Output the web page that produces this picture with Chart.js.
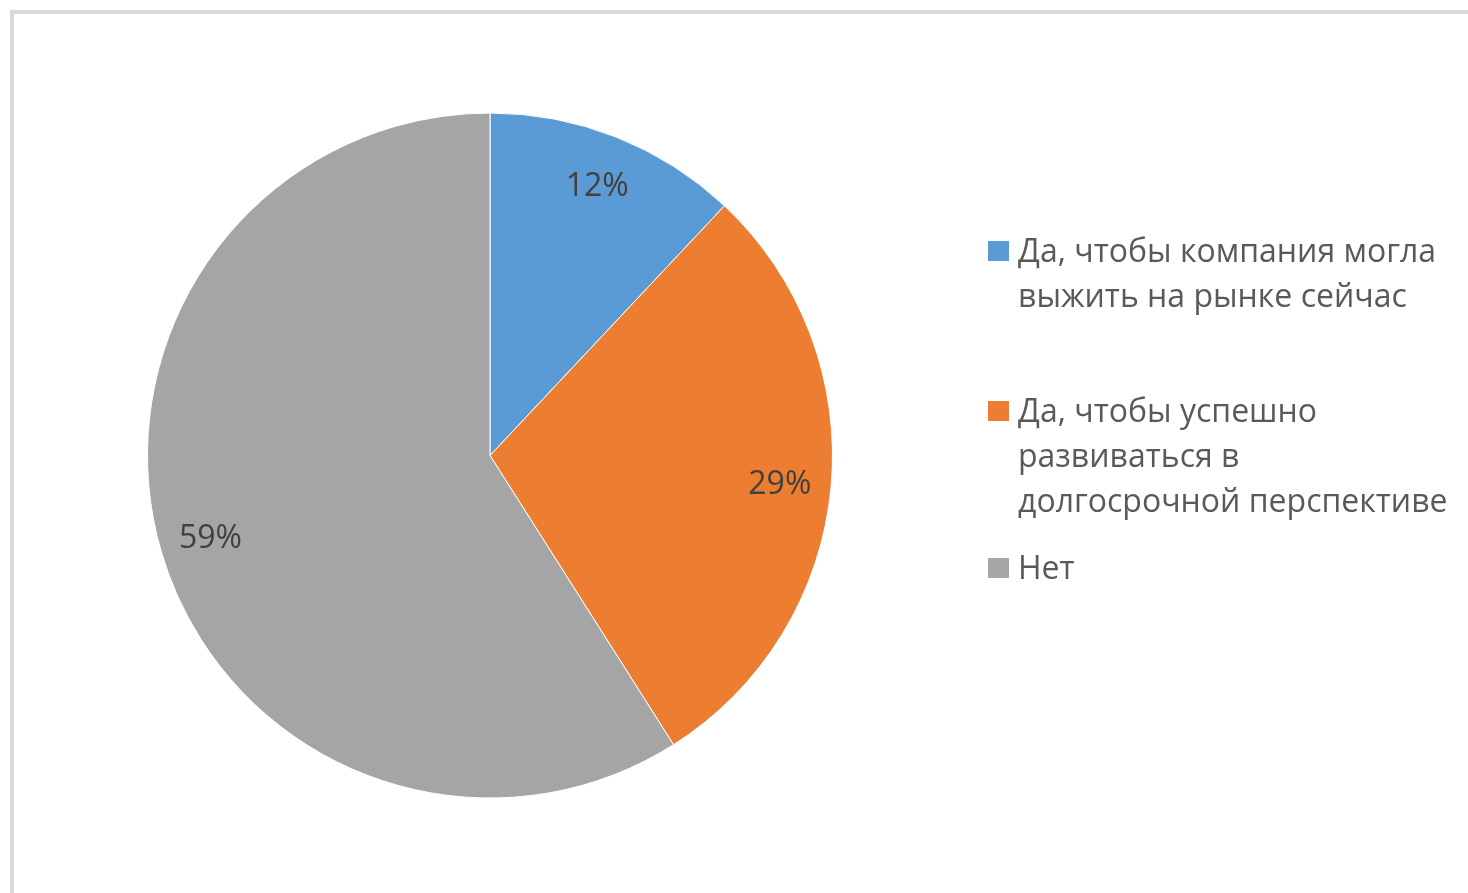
<!DOCTYPE html>
<html>
<head>
<meta charset="utf-8">
<script src="https://cdn.jsdelivr.net/npm/chart.js@4"></script>
<style>
  html, body { margin:0; padding:0; background:#fff; width:1468px; height:893px; overflow:hidden; }
  #frame { position:absolute; left:10px; top:10px; width:1500px; height:950px; border-top:4px solid #d9d9d9; border-left:4px solid #d9d9d9; box-sizing:border-box; }
  #c { position:absolute; left:0; top:0; }
  .leg { position:absolute; left:988px; font-family:"Open Sans", sans-serif; font-size:32px; line-height:45px; color:#595959; white-space:nowrap; }
  .leg .box { position:absolute; left:0; top:14px; width:21px; height:20px; }
  .leg .txt { position:absolute; left:30px; top:0; }
</style>
</head>
<body>
<div id="frame"></div>
<canvas id="c" width="1468" height="893"></canvas>
<div id="legend"></div>
<script>
const categories = [
  "Да, чтобы компания могла выжить на рынке сейчас",
  "Да, чтобы успешно развиваться в долгосрочной перспективе",
  "Нет"
];
const legendLines = [
  ["Да, чтобы компания могла", "выжить на рынке сейчас"],
  ["Да, чтобы успешно", "развиваться в", "долгосрочной перспективе"],
  ["Нет"]
];
const values = [12, 29, 59];
const valueLabels = ["12%", "29%", "59%"];
const colors = ["#5B9BD5", "#ED7D31", "#A5A5A5"];
const legendTops = [227, 387, 544];

const labelPlugin = {
  id: 'sliceLabels',
  afterDatasetsDraw(chart) {
    const ctx = chart.ctx;
    const meta = chart.getDatasetMeta(0);
    ctx.save();
    ctx.font = '32px "Open Sans", sans-serif';
    ctx.fillStyle = '#404040';
    ctx.textAlign = 'center';
    ctx.textBaseline = 'middle';
    meta.data.forEach((arc, i) => {
      const p = arc.getProps(['x','y','startAngle','endAngle','outerRadius'], true);
      const mid = (p.startAngle + p.endAngle) / 2;
      const r = p.outerRadius * 0.85;
      ctx.fillText(valueLabels[i], p.x + Math.cos(mid) * r, p.y + Math.sin(mid) * r + 2);
    });
    ctx.restore();
  }
};

function build() {
  new Chart(document.getElementById('c'), {
    type: 'pie',
    data: {
      labels: categories,
      datasets: [{
        data: values,
        backgroundColor: colors,
        borderColor: '#ffffff',
        borderWidth: 1
      }]
    },
    options: {
      responsive: false,
      animation: false,
      layout: { padding: { left: 147, right: 635, top: 112, bottom: 94 } },
      plugins: { legend: { display: false }, tooltip: { enabled: false } }
    },
    plugins: [labelPlugin]
  });
  const lg = document.getElementById('legend');
  legendLines.forEach((lines, i) => {
    const d = document.createElement('div');
    d.className = 'leg';
    d.style.top = legendTops[i] + 'px';
    const b = document.createElement('div');
    b.className = 'box';
    b.style.background = colors[i];
    const t = document.createElement('div');
    t.className = 'txt';
    t.innerHTML = lines.join('<br>');
    d.appendChild(b); d.appendChild(t);
    lg.appendChild(d);
  });
}
if (document.fonts && document.fonts.load) {
  document.fonts.load('32px "Open Sans"').then(build, build);
} else { build(); }
</script>
</body>
</html>
